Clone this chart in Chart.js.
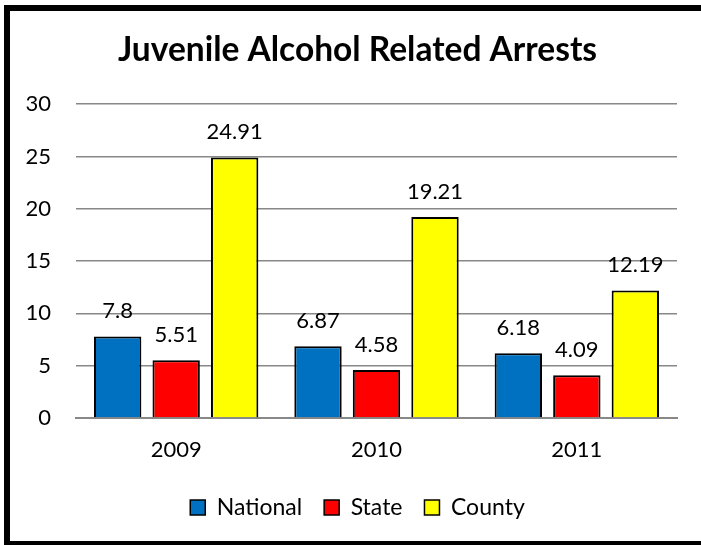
<!DOCTYPE html>
<html lang="en">
<head>
    <meta charset="UTF-8">
    <title>Juvenile Alcohol Related Arrests</title>
    <style>
        html, body{
            margin: 0;
            padding: 0;
            background: #fff;
            overflow: hidden;
        }
        .container{
            position: relative;
            width: 701px;
            height: 545px;
            overflow: hidden;
        }
        .rahmen{
            position: absolute;
            left: 4px;
            top: 5px;
            width: 740px;
            height: 540px;
            border: 6px solid #000;
            border-bottom-width: 4px;
            box-sizing: border-box;
            pointer-events: none;
        }
        canvas{
            position: absolute;
            left: 0;
            top: 0;
        }
    </style>
</head>
<body>
    <div class="container">
        <canvas id="diagramm" width="701" height="545"></canvas>
        <div class="rahmen"></div>
    </div>
    <script src="https://cdn.jsdelivr.net/npm/chart.js"></script>
    <script>
        // Daten
        const jahre = ['2009', '2010', '2011'];
        const national = [7.8, 6.87, 6.18];
        const state = [5.51, 4.58, 4.09];
        const county = [24.91, 19.21, 12.19];
        const yTicks = [0, 5, 10, 15, 20, 25, 30];

        const schrift = 'Lato, "Open Sans", sans-serif';

        // Werte ueber den Balken
        const wertePlugin = {
            id: 'werte',
            afterDatasetsDraw(chart) {
                const ctx = chart.ctx;
                ctx.save();
                ctx.fillStyle = '#000';
                ctx.font = '22px ' + schrift;
                ctx.textAlign = 'center';
                ctx.textBaseline = 'alphabetic';
                chart.data.datasets.forEach((ds, i) => {
                    chart.getDatasetMeta(i).data.forEach((bar, j) => {
                        ctx.fillText(String(ds.data[j]), bar.x, bar.y - 18);
                    });
                });
                ctx.restore();
            }
        };

        new Chart(document.getElementById('diagramm').getContext('2d'), {
            type: 'bar',
            data: {
                labels: jahre,
                datasets: [
                    { label: 'National', data: national, backgroundColor: '#0070C0' },
                    { label: 'State', data: state, backgroundColor: '#FF0000' },
                    { label: 'County', data: county, backgroundColor: '#FFFF00' }
                ].map(ds => Object.assign(ds, {
                    borderColor: '#000',
                    borderWidth: 2,
                    categoryPercentage: 0.876,
                    barPercentage: 0.81
                }))
            },
            options: {
                responsive: false,
                animation: false,
                devicePixelRatio: 1,
                layout: {
                    padding: { left: 14, right: 0, top: 10, bottom: 16 }
                },
                plugins: {
                    title: {
                        display: true,
                        text: 'Juvenile Alcohol Related Arrests',
                        color: '#000',
                        font: { family: schrift, size: 33.5, weight: 'bold' },
                        padding: { top: 20, bottom: 34 }
                    },
                    legend: {
                        position: 'bottom',
                        labels: {
                            color: '#000',
                            font: { family: schrift, size: 23 },
                            boxWidth: 15,
                            boxHeight: 15,
                            padding: 22,
                            generateLabels(chart) {
                                return chart.data.datasets.map((ds, i) => ({
                                    text: ds.label,
                                    fillStyle: ds.backgroundColor,
                                    strokeStyle: '#000',
                                    lineWidth: 1.5,
                                    datasetIndex: i,
                                    fontColor: '#000'
                                }));
                            }
                        }
                    },
                    tooltip: { enabled: false }
                },
                scales: {
                    x: {
                        grid: { display: false, drawTicks: false },
                        border: { color: '#888', width: 2 },
                        ticks: {
                            color: '#000',
                            font: { family: schrift, size: 22 },
                            padding: 19
                        },
                        afterFit(scale) { scale.height = 56; }
                    },
                    y: {
                        min: 0,
                        max: 30,
                        afterBuildTicks(scale) {
                            scale.ticks = yTicks.map(v => ({ value: v }));
                        },
                        grid: { color: '#888', lineWidth: 1.5, drawTicks: false },
                        border: { display: false },
                        ticks: {
                            color: '#000',
                            font: { family: schrift, size: 22 },
                            padding: 25
                        },
                        afterFit(scale) { scale.width = 62; }
                    },
                    // leerer Rand rechts, damit der Titel mittig sitzt
                    rechts: {
                        position: 'right',
                        grid: { display: false, drawTicks: false },
                        border: { display: false },
                        ticks: { display: false },
                        afterFit(scale) { scale.width = 24; }
                    }
                }
            },
            plugins: [wertePlugin]
        });
    </script>
</body>
</html>
